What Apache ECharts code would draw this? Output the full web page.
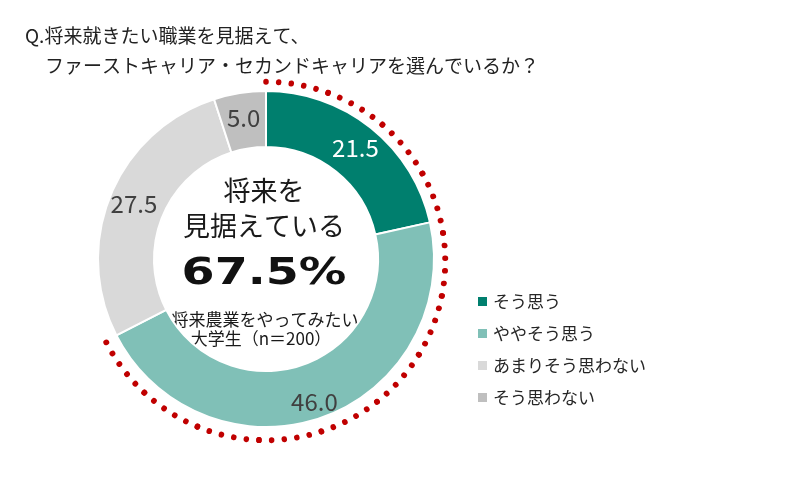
<!DOCTYPE html>
<html>
<head>
<meta charset="utf-8">
<script src="https://cdn.jsdelivr.net/npm/echarts@6/dist/echarts.min.js"></script>
<style>
    html, body { margin: 0; padding: 0; background: #fff; }
    #chart { width: 800px; height: 492px; }
</style>
</head>
<body>
<div id="chart"></div>
<script>
// answers (percent, n=200)
const categories = ["そう思う", "ややそう思う", "あまりそう思わない", "そう思わない"];
const shares = [21.5, 46.0, 27.5, 5.0];
const sampleSize = 200;

const colors = ["#007F6E", "#80C0B7", "#D9D9D9", "#BFBFBF"];
const labelColors = ["#ffffff", "#404040", "#404040", "#404040"];
const labelOffsets = [[0, 0], [0, 8], [0, 0], [0, 0]];

// "見据えている" = そう思う + ややそう思う
const positiveTotal = shares[0] + shares[1];

const JP = '"Noto Sans CJK JP", "Noto Sans", sans-serif';
const cx = 266;
const cy = 259;

const chart = echarts.init(document.getElementById("chart"), null, { renderer: "canvas" });

const option = {
    backgroundColor: "#ffffff",
    animation: false,
    legend: {
        orient: "vertical",
        left: 471,
        top: 288,
        icon: "rect",
        itemWidth: 11,
        itemHeight: 11,
        itemGap: 15,
        data: categories,
        textStyle: {
            fontFamily: JP,
            fontSize: 17,
            color: "#262626",
        },
    },
    graphic: [
        {
            type: "text",
            x: 25,
            y: 36,
            style: {
                text: "Q.将来就きたい職業を見据えて、",
                font: `19px ${JP}`,
                fill: "#222222",
                textVerticalAlign: "middle",
            },
        },
        {
            type: "text",
            x: 45,
            y: 66,
            style: {
                text: "ファーストキャリア・セカンドキャリアを選んでいるか？",
                font: `19px ${JP}`,
                fill: "#222222",
                textVerticalAlign: "middle",
            },
        },
        {
            type: "text",
            x: 264,
            y: 191,
            style: {
                text: "将来を",
                font: `27px ${JP}`,
                fill: "#1a1a1a",
                textAlign: "center",
                textVerticalAlign: "middle",
            },
        },
        {
            type: "text",
            x: 264,
            y: 226,
            style: {
                text: "見据えている",
                font: `27px ${JP}`,
                fill: "#1a1a1a",
                textAlign: "center",
                textVerticalAlign: "middle",
            },
        },
        {
            type: "text",
            x: 264,
            y: 274,
            scaleX: 1.25,
            style: {
                text: positiveTotal.toFixed(1) + "%",
                font: 'bold 38px "DejaVu Sans", sans-serif',
                fill: "#111111",
                textAlign: "center",
                textVerticalAlign: "middle",
            },
        },
        {
            type: "text",
            x: 265,
            y: 320,
            style: {
                text: "将来農業をやってみたい",
                font: `17px ${JP}`,
                fill: "#1a1a1a",
                textAlign: "center",
                textVerticalAlign: "middle",
            },
        },
        {
            type: "text",
            x: 261,
            y: 339,
            style: {
                text: `大学生（n＝${sampleSize}）`,
                font: `17px ${JP}`,
                fill: "#1a1a1a",
                textAlign: "center",
                textVerticalAlign: "middle",
            },
        },
    ],
    series: [
        {
            name: "回答",
            type: "pie",
            center: [cx, cy],
            radius: [112, 168],
            startAngle: 90,
            clockwise: true,
            silent: true,
            label: {
                show: true,
                position: "inside",
                fontFamily: JP,
                fontSize: 24,
                formatter: (p) => p.value.toFixed(1),
            },
            labelLine: { show: false },
            itemStyle: {
                borderColor: "#ffffff",
                borderWidth: 2,
            },
            data: categories.map((name, i) => ({
                name,
                value: shares[i],
                itemStyle: { color: colors[i] },
                label: { color: labelColors[i], offset: labelOffsets[i] },
            })),
        },
        {
            // red dotted arc over the 67.5% share
            type: "gauge",
            center: [cx, cy + 2],
            radius: 179.5,
            startAngle: 90,
            endAngle: 90 - (360 * positiveTotal) / 100,
            min: 0,
            max: positiveTotal,
            splitNumber: 12,
            silent: true,
            axisLine: { show: false, lineStyle: { width: 0 } },
            splitLine: { show: false },
            axisLabel: { show: false },
            pointer: { show: false },
            anchor: { show: false },
            title: { show: false },
            detail: { show: false },
            axisTick: {
                show: true,
                splitNumber: 5,
                distance: 0,
                length: 0.5,
                lineStyle: {
                    color: "#C00000",
                    width: 5.5,
                    cap: "round",
                },
            },
            data: [{ value: positiveTotal }],
        },
    ],
};

chart.setOption(option);
</script>
</body>
</html>
